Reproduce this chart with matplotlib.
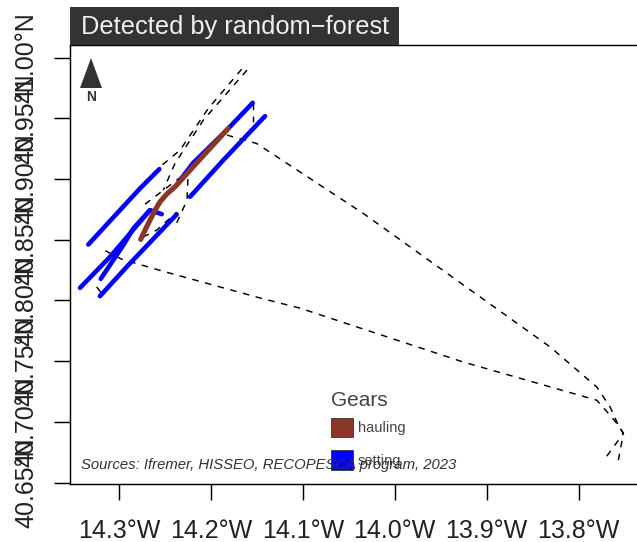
import matplotlib
matplotlib.use("Agg")
import matplotlib.pyplot as plt
from matplotlib.patches import Patch, Polygon, Rectangle

plt.rcParams['font.family'] = ['Liberation Sans', 'DejaVu Sans']

title = "Detected by random\u2212forest"
source = "Sources: Ifremer, HISSEO, RECOPESCA program, 2023"
x_ticks = [-14.3, -14.2, -14.1, -14.0, -13.9, -13.8]
x_labels = ["14.3°W", "14.2°W", "14.1°W", "14.0°W", "13.9°W", "13.8°W"]
y_ticks = [40.65, 40.70, 40.75, 40.80, 40.85, 40.90, 40.95, 41.00]
y_labels = ["40.65°N", "40.70°N", "40.75°N", "40.80°N", "40.85°N", "40.90°N", "40.95°N", "41.00°N"]

setting_tracks = [
    [(-14.3334, 40.8460), (-14.2771, 40.8922), (-14.2561, 40.9081)],
    [(-14.3424, 40.8103), (-14.3098, 40.8358), (-14.2663, 40.8743)],
    [(-14.3199, 40.8177), (-14.2953, 40.8455), (-14.2844, 40.8592), (-14.2663, 40.8743), (-14.2535, 40.8710)],
    [(-14.3207, 40.8035), (-14.2916, 40.8276), (-14.2372, 40.8708)],
    [(-14.2227, 40.8853), (-14.1865, 40.9155), (-14.1411, 40.9517)],
    [(-14.2336, 40.8990), (-14.2195, 40.9130), (-14.1828, 40.9402), (-14.1545, 40.9627)],
]
hauling_tracks = [
    [(-14.2764, 40.8502), (-14.2717, 40.8578), (-14.2663, 40.8661), (-14.2608, 40.8743), (-14.2554, 40.8811),
     (-14.2481, 40.8875), (-14.2391, 40.8935), (-14.2227, 40.9072), (-14.2028, 40.9237), (-14.1811, 40.9416)],
]
route_tracks = [
    [(-13.7567, 40.6684), (-13.7512, 40.6904), (-13.7567, 40.6972), (-13.7657, 40.7054), (-13.7802, 40.7178),
     (-13.9257, 40.7493), (-14.1030, 40.7936), (-14.1447, 40.8016), (-14.2535, 40.8243), (-14.2971, 40.8339), (-14.3207, 40.8432)],
    [(-13.7693, 40.6717), (-13.7512, 40.6904), (-13.7567, 40.6972), (-13.7657, 40.7123), (-13.7802, 40.7287),
     (-13.8310, 40.7617), (-13.9325, 40.8166), (-14.0342, 40.8716), (-14.1502, 40.9292), (-14.1825, 40.9361)],
    [(-14.1607, 40.9896), (-14.2083, 40.9484), (-14.2391, 40.9128), (-14.2518, 40.8908)],
    [(-14.1665, 40.9904), (-14.2028, 40.9581), (-14.2336, 40.9237), (-14.2554, 40.9100)],
    [(-14.2717, 40.8792), (-14.2372, 40.8990), (-14.2227, 40.9072), (-14.2249, 40.9015), (-14.2260, 40.8825), (-14.2372, 40.8638)],
    [(-14.2739, 40.8521), (-14.2590, 40.8578), (-14.2372, 40.8727)],
    [(-14.1542, 40.9624), (-14.1542, 40.9468)],
    [(-14.3243, 40.8111), (-14.3199, 40.8068)],
]

W, H = 637, 542
fig = plt.figure(figsize=(W / 100, H / 100), dpi=100)
ax = fig.add_axes([70 / W, 1 - 484 / H, (W - 70) / W, (484 - 45) / H])
ax.set_xlim(-14.3533, -13.7364)
ax.set_ylim(40.6488, 41.0103)

for t in route_tracks:
    ax.plot(*zip(*t), color='black', lw=1.05, dashes=(4.5, 4.5), zorder=2)
for t in setting_tracks:
    ax.plot(*zip(*t), color='#0000ff', lw=3.3, solid_capstyle='round', solid_joinstyle='round', zorder=3)
for t in hauling_tracks:
    ax.plot(*zip(*t), color='#8b3626', lw=3.7, solid_capstyle='round', solid_joinstyle='round', zorder=4)

ax.set_xticks(x_ticks, x_labels)
ax.set_yticks(y_ticks, y_labels)
ax.tick_params(axis='x', length=11.5, width=1.05, labelsize=18, pad=14, labelcolor='#222222')
ax.tick_params(axis='y', length=11.5, width=1.05, labelsize=18, pad=11, labelcolor='#222222')
for lab in ax.get_yticklabels():
    lab.set_rotation(90)
    lab.set_va('center')
for s in ('left', 'bottom', 'top'):
    ax.spines[s].set_linewidth(1.05)
ax.spines['right'].set_visible(False)

# facet strip
fig.add_artist(Rectangle((70 / W, 1 - 45 / H), 329 / W, 38 / H, transform=fig.transFigure,
                         facecolor='#333333', edgecolor='none'))
fig.text(81 / W, 1 - 27 / H, title, color='#f0f0f0', fontsize=18.3, va='center', ha='left')

# north arrow
ax.add_patch(Polygon([(91 / W, 1 - 58 / H), (80 / W, 1 - 88 / H), (102 / W, 1 - 88 / H)],
                     transform=fig.transFigure, facecolor='#333333', edgecolor='none', zorder=5))
fig.text(91 / W, 1 - 97 / H, "N", color='#333333', fontsize=10, fontweight='bold', ha='center', va='center')

leg = ax.legend(handles=[Patch(facecolor='#8b3626', edgecolor='#333333', lw=0.6, label='hauling'),
                         Patch(facecolor='#0000ff', edgecolor='#333333', lw=0.6, label='setting')],
                title='Gears', loc='lower left', bbox_to_anchor=(331 / W, 1 - 469.5 / H),
                bbox_transform=fig.transFigure, frameon=False, fontsize=10.5, title_fontsize=15,
                handlelength=1.5, handleheight=1.63, labelspacing=0.915, handletextpad=0.34,
                borderaxespad=0, borderpad=0)
leg._legend_box.align = 'left'
leg._legend_box.sep = 5.7
leg.get_title().set_color('#444444')
for t in leg.get_texts():
    t.set_color('#444444')
leg.set_zorder(6)

fig.text(81 / W, 1 - 465 / H, source, color='#333333', fontsize=10.75, style='italic', ha='left', va='center', zorder=10)

fig.savefig('out.png', dpi=100)
